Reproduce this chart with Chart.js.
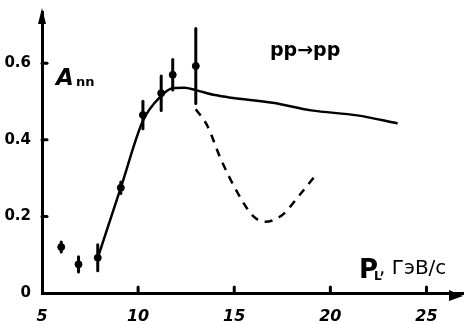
<!DOCTYPE html>
<html>
<head>
<meta charset="utf-8">
<script src="https://cdn.jsdelivr.net/npm/chart.js@4"></script>
<style>
body { margin: 0; background: #fff; }
</style>
</head>
<body>
<canvas id="myChart" width="468" height="324"></canvas>
<script>
const xTicks = [5, 10, 15, 20, 25];
const yTicks = [0, 0.2, 0.4, 0.6];

// measured points with error bars
const momentum = [6.0, 6.9, 7.9, 9.1, 10.25, 11.2, 11.8, 13.0];
const ann = [0.12, 0.075, 0.092, 0.275, 0.465, 0.522, 0.57, 0.593];
const annErr = [0.013, 0.02, 0.034, 0.015, 0.036, 0.045, 0.04, 0.098];

// solid curve
const fitX = [7.9, 9.1, 10.25, 11.2, 11.8, 12.4, 13.0, 14.0, 14.85, 17.0, 19.0, 21.4, 23.5];
const fitY = [0.092, 0.275, 0.45, 0.515, 0.535, 0.536, 0.53, 0.517, 0.51, 0.497, 0.477, 0.464, 0.443];

// dashed curve
const dipX = [13.0, 13.6, 14.3, 15.15, 16.0, 16.6, 17.5, 18.4, 19.35];
const dipY = [0.48, 0.437, 0.35, 0.264, 0.2, 0.186, 0.204, 0.256, 0.315];

const toPts = (xs, ys) => xs.map((x, i) => ({ x: x, y: ys[i] }));

const decor = {
    id: 'decor',
    afterDatasetsDraw(chart) {
        const ctx = chart.ctx;
        const xs = chart.scales.x, ys = chart.scales.y;
        const area = chart.chartArea;
        ctx.save();
        ctx.strokeStyle = '#000';
        ctx.fillStyle = '#000';
        ctx.lineCap = 'round';

        // error bars
        ctx.lineWidth = 3;
        momentum.forEach((m, i) => {
            const px = xs.getPixelForValue(m);
            ctx.beginPath();
            ctx.moveTo(px, ys.getPixelForValue(ann[i] - annErr[i]));
            ctx.lineTo(px, ys.getPixelForValue(ann[i] + annErr[i]));
            ctx.stroke();
        });

        // inward tick marks
        xTicks.slice(1).forEach(v => {
            const px = xs.getPixelForValue(v);
            ctx.beginPath();
            ctx.moveTo(px, area.bottom);
            ctx.lineTo(px, area.bottom - 6);
            ctx.stroke();
        });
        yTicks.slice(1).forEach(v => {
            const py = ys.getPixelForValue(v);
            ctx.beginPath();
            ctx.moveTo(area.left, py);
            ctx.lineTo(area.left + 5, py);
            ctx.stroke();
        });

        // arrow heads
        ctx.beginPath();
        ctx.moveTo(area.left, area.top - 4);
        ctx.lineTo(area.left - 4, area.top + 12);
        ctx.lineTo(area.left + 4, area.top + 12);
        ctx.closePath();
        ctx.fill();
        ctx.beginPath();
        ctx.moveTo(area.right, area.bottom + 3);
        ctx.lineTo(area.right - 14, area.bottom - 3);
        ctx.lineTo(area.right - 14, area.bottom + 8);
        ctx.closePath();
        ctx.fill();

        // labels
        ctx.textBaseline = 'alphabetic';
        ctx.font = 'italic bold 23px "DejaVu Sans"';
        ctx.fillText('A', 56, 85);
        ctx.font = 'bold 13px "DejaVu Sans"';
        ctx.fillText('nn', 76, 86);

        ctx.font = 'bold 19px "DejaVu Sans"';
        ctx.fillText('pp\u2192pp', 270, 56);

        ctx.font = 'bold 26px "DejaVu Sans"';
        ctx.fillText('P', 359, 278);
        ctx.font = 'bold 12px "DejaVu Sans"';
        ctx.fillText('L', 374, 280);
        ctx.font = '20px "DejaVu Sans"';
        ctx.fillText(', \u0413\u044d\u0412/\u0441', 379, 274);
        ctx.restore();
    }
};

new Chart(document.getElementById('myChart').getContext('2d'), {
    type: 'scatter',
    data: {
        datasets: [{
            type: 'line',
            data: toPts(fitX, fitY),
            borderColor: '#000',
            borderWidth: 2.5,
            pointRadius: 0,
            cubicInterpolationMode: 'monotone',
            fill: false
        }, {
            type: 'line',
            data: toPts(dipX, dipY),
            borderColor: '#000',
            borderWidth: 2.5,
            borderDash: [8, 7],
            pointRadius: 0,
            cubicInterpolationMode: 'monotone',
            fill: false
        }, {
            data: toPts(momentum, ann),
            backgroundColor: '#000',
            borderColor: '#000',
            pointRadius: 3.5
        }]
    },
    options: {
        responsive: false,
        animation: false,
        layout: { padding: { top: 8, right: 1 } },
        plugins: { legend: { display: false }, tooltip: { enabled: false } },
        scales: {
            x: {
                type: 'linear',
                min: 5,
                max: 26.9,
                afterBuildTicks: s => { s.ticks = xTicks.map(v => ({ value: v })); },
                afterFit: s => { s.height = 31; },
                grid: { display: false },
                border: { color: '#000', width: 3 },
                ticks: {
                    color: '#000',
                    padding: 6,
                    font: { family: 'DejaVu Sans', size: 16, weight: 'bold', style: 'italic' }
                }
            },
            y: {
                min: 0,
                max: 0.734,
                afterBuildTicks: s => { s.ticks = yTicks.map(v => ({ value: v })); },
                afterFit: s => { s.width = 42; },
                grid: { display: false },
                border: { color: '#000', width: 3 },
                ticks: {
                    color: '#000',
                    padding: 3,
                    font: { family: 'DejaVu Sans', size: 15, weight: 'bold' },
                    callback: v => v === 0 ? '0' : v.toFixed(1)
                }
            }
        }
    },
    plugins: [decor]
});
</script>
</body>
</html>
